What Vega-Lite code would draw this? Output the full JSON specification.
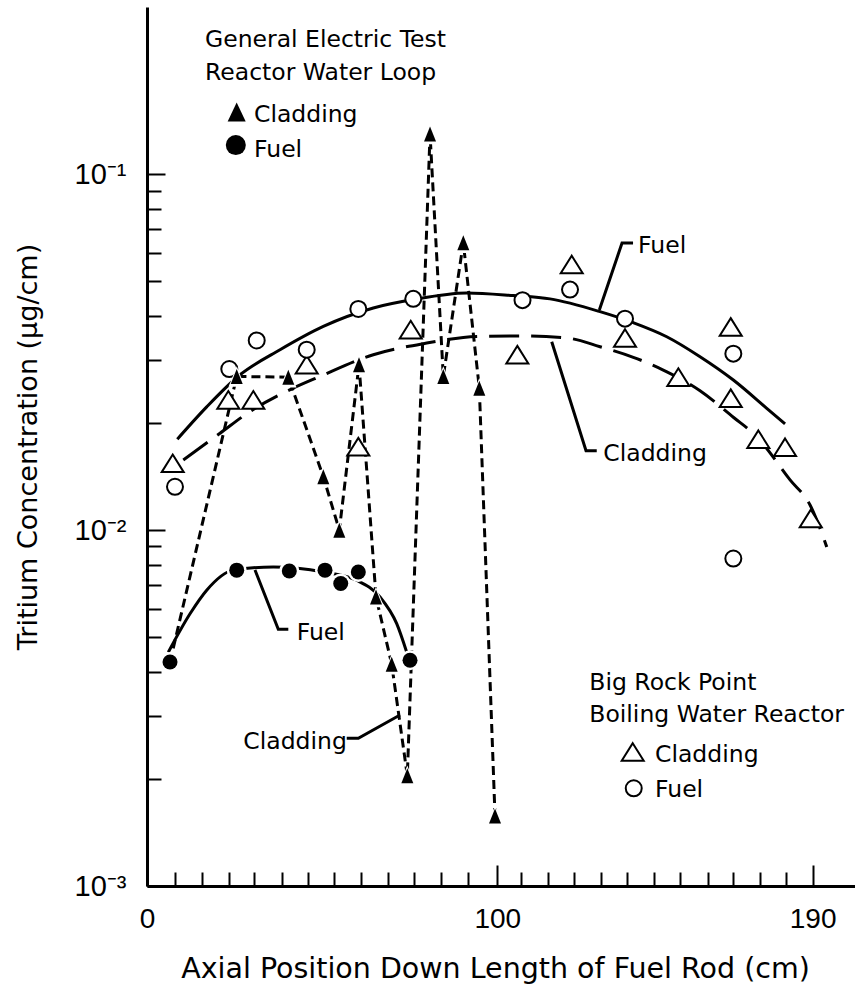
{
  "$schema": "https://vega.github.io/schema/vega-lite/v6.json",
  "width": 708,
  "height": 879,
  "autosize": {"type": "none"},
  "padding": {"left": 147, "top": 7, "right": 0, "bottom": 103},
  "background": "white",
  "config": {"view": {"stroke": null}},
  "datasets": {
    "brp_fuel": [
      {"x": 7.99, "y": 0.01324}, {"x": 23.49, "y": 0.02836}, {"x": 31.32, "y": 0.03413},
      {"x": 45.59, "y": 0.03214}, {"x": 60.32, "y": 0.04184}, {"x": 76.01, "y": 0.04466},
      {"x": 107.19, "y": 0.04429}, {"x": 120.75, "y": 0.04742}, {"x": 136.45, "y": 0.0393},
      {"x": 167.37, "y": 0.03133}, {"x": 167.37, "y": 0.00832}
    ],
    "brp_cladding": [
      {"x": 7.34, "y": 0.01541}, {"x": 23.21, "y": 0.02323}, {"x": 30.35, "y": 0.02323},
      {"x": 45.59, "y": 0.02918}, {"x": 60.32, "y": 0.01716}, {"x": 75.28, "y": 0.0366},
      {"x": 105.71, "y": 0.03112}, {"x": 121.24, "y": 0.05578}, {"x": 136.45, "y": 0.03467},
      {"x": 151.67, "y": 0.02692}, {"x": 166.63, "y": 0.03724}, {"x": 166.63, "y": 0.02349},
      {"x": 174.51, "y": 0.01801}, {"x": 182.13, "y": 0.0171}, {"x": 189.47, "y": 0.01079}
    ],
    "getr_fuel": [
      {"x": 6.57, "y": 0.00426}, {"x": 25.61, "y": 0.00772}, {"x": 40.62, "y": 0.00768},
      {"x": 50.81, "y": 0.00772}, {"x": 55.3, "y": 0.00708}, {"x": 60.32, "y": 0.00763},
      {"x": 75.08, "y": 0.00431}
    ],
    "getr_cladding": [
      {"x": 6.57, "y": 0.00426}, {"x": 25.61, "y": 0.02704}, {"x": 40.34, "y": 0.02691},
      {"x": 50.33, "y": 0.01413}, {"x": 54.9, "y": 0.01}, {"x": 60.52, "y": 0.02918},
      {"x": 65.37, "y": 0.00649}, {"x": 69.85, "y": 0.0042}, {"x": 74.31, "y": 0.00204},
      {"x": 80.79, "y": 0.1297}, {"x": 84.58, "y": 0.02704}, {"x": 90.29, "y": 0.06423},
      {"x": 94.86, "y": 0.02506}, {"x": 99.34, "y": 0.001574}
    ],
    "fits": [
      {"fit": "BRP fuel", "x": 8.65, "y": 0.01801}, {"fit": "BRP fuel", "x": 17.04, "y": 0.0222},
      {"fit": "BRP fuel", "x": 26.55, "y": 0.02733}, {"fit": "BRP fuel", "x": 37.97, "y": 0.03214},
      {"fit": "BRP fuel", "x": 50.33, "y": 0.03738}, {"fit": "BRP fuel", "x": 64.6, "y": 0.04211},
      {"fit": "BRP fuel", "x": 76.02, "y": 0.04446}, {"fit": "BRP fuel", "x": 91.27, "y": 0.04641},
      {"fit": "BRP fuel", "x": 104.57, "y": 0.04561}, {"fit": "BRP fuel", "x": 115.04, "y": 0.04466},
      {"fit": "BRP fuel", "x": 129.32, "y": 0.04111}, {"fit": "BRP fuel", "x": 138.82, "y": 0.03828},
      {"fit": "BRP fuel", "x": 148.36, "y": 0.03496}, {"fit": "BRP fuel", "x": 157.87, "y": 0.03072},
      {"fit": "BRP fuel", "x": 167.37, "y": 0.02642}, {"fit": "BRP fuel", "x": 176.91, "y": 0.022},
      {"fit": "BRP fuel", "x": 182.13, "y": 0.01988},
      {"fit": "BRP cladding", "x": 10.36, "y": 0.01575}, {"fit": "BRP cladding", "x": 20.84, "y": 0.01872},
      {"fit": "BRP cladding", "x": 29.4, "y": 0.02154}, {"fit": "BRP cladding", "x": 41.76, "y": 0.02507},
      {"fit": "BRP cladding", "x": 49.39, "y": 0.02704}, {"fit": "BRP cladding", "x": 64.6, "y": 0.03112},
      {"fit": "BRP cladding", "x": 78.88, "y": 0.03342}, {"fit": "BRP cladding", "x": 95.06, "y": 0.03503},
      {"fit": "BRP cladding", "x": 106.48, "y": 0.03512}, {"fit": "BRP cladding", "x": 119.81, "y": 0.03467},
      {"fit": "BRP cladding", "x": 129.32, "y": 0.03277}, {"fit": "BRP cladding", "x": 138.82, "y": 0.0306},
      {"fit": "BRP cladding", "x": 146.93, "y": 0.02831}, {"fit": "BRP cladding", "x": 157.87, "y": 0.02465},
      {"fit": "BRP cladding", "x": 167.37, "y": 0.02076}, {"fit": "BRP cladding", "x": 174.05, "y": 0.01831},
      {"fit": "BRP cladding", "x": 183.56, "y": 0.01384}, {"fit": "BRP cladding", "x": 189.27, "y": 0.01177},
      {"fit": "BRP cladding", "x": 194.03, "y": 0.00897},
      {"fit": "GETR fuel", "x": 6.08, "y": 0.00454}, {"fit": "GETR fuel", "x": 12.28, "y": 0.00582},
      {"fit": "GETR fuel", "x": 17.04, "y": 0.00678}, {"fit": "GETR fuel", "x": 24.64, "y": 0.00772},
      {"fit": "GETR fuel", "x": 36.05, "y": 0.00788}, {"fit": "GETR fuel", "x": 50.33, "y": 0.00763},
      {"fit": "GETR fuel", "x": 59.86, "y": 0.00723}, {"fit": "GETR fuel", "x": 66.51, "y": 0.00649},
      {"fit": "GETR fuel", "x": 71.28, "y": 0.00546}, {"fit": "GETR fuel", "x": 74.14, "y": 0.00454}
    ],
    "leaders": [
      {"leader": "BRP fuel", "i": 0, "x": 138.74, "y": 0.0641},
      {"leader": "BRP fuel", "i": 1, "x": 135.6, "y": 0.0641},
      {"leader": "BRP fuel", "i": 2, "x": 129.12, "y": 0.04157},
      {"leader": "BRP cladding", "i": 0, "x": 115.53, "y": 0.03385},
      {"leader": "BRP cladding", "i": 1, "x": 125.32, "y": 0.01672},
      {"leader": "BRP cladding", "i": 2, "x": 128.38, "y": 0.01672},
      {"leader": "GETR fuel", "i": 0, "x": 30.83, "y": 0.00773},
      {"leader": "GETR fuel", "i": 1, "x": 37.48, "y": 0.005265},
      {"leader": "GETR fuel", "i": 2, "x": 40.34, "y": 0.005265},
      {"leader": "GETR cladding", "i": 0, "x": 57.01, "y": 0.0026},
      {"leader": "GETR cladding", "i": 1, "x": 60.32, "y": 0.0026},
      {"leader": "GETR cladding", "i": 2, "x": 72.22, "y": 0.003024}
    ],
    "labels": [
      {"label": "General Electric Test", "x": 16.56, "y": 0.2275},
      {"label": "Reactor Water Loop", "x": 16.56, "y": 0.1841},
      {"label": "Cladding", "x": 30.55, "y": 0.1405},
      {"label": "Fuel", "x": 30.55, "y": 0.1121},
      {"label": "Big Rock Point", "x": 126.26, "y": 0.003555},
      {"label": "Boiling Water Reactor", "x": 126.26, "y": 0.002895},
      {"label": "Cladding", "x": 145.02, "y": 0.002235},
      {"label": "Fuel", "x": 145.02, "y": 0.001782},
      {"label": "Fuel", "x": 140.17, "y": 0.05998},
      {"label": "Cladding", "x": 130.26, "y": 0.01567},
      {"label": "Fuel", "x": 42.73, "y": 0.004912},
      {"label": "Cladding", "x": 27.49, "y": 0.002421}
    ],
    "legend": [
      {"symbol": "filled triangle", "x": 25.6, "y": 0.1496},
      {"symbol": "filled circle", "x": 25.35, "y": 0.1208},
      {"symbol": "open triangle", "x": 138.65, "y": 0.00238},
      {"symbol": "open circle", "x": 138.94, "y": 0.001882}
    ]
  },
  "encoding": {
    "x": {
      "field": "x", "type": "quantitative",
      "scale": {"domain": [0, 202.1], "nice": false, "zero": false},
      "axis": {
        "title": "Axial Position Down Length of Fuel Rod (cm)",
        "values": [0, 7.9, 15.7, 23.3, 30.6, 38.5, 46.0, 53.4, 61.2, 68.8, 76.2, 83.8, 91.5, 100, 106.8, 114.4, 121.9, 129.5, 137.0, 144.6, 152.2, 160.0, 167.3, 174.9, 182.5, 190],
        "labelExpr": "datum.value == 0 || datum.value == 100 || datum.value == 190 ? '' + datum.value : ''",
        "labelFont": "Liberation Sans", "labelFontSize": 28, "labelColor": "black",
        "labelPadding": {"condition": {"test": "datum.value == 100 || datum.value == 190", "value": 40}, "value": 33},
        "labelFlush": false, "labelOverlap": false, "labelBound": false,
        "tickSize": {"condition": {"test": "datum.value == 100 || datum.value == 190", "value": -21}, "value": -14},
        "tickColor": "black", "tickWidth": 2,
        "domainColor": "black", "domainWidth": 3, "grid": false,
        "titleFont": "DejaVu Sans", "titleFontSize": 28.5, "titleFontWeight": "normal", "titleColor": "black",
        "titlePadding": 21, "titleX": 348
      }
    },
    "y": {
      "field": "y", "type": "quantitative",
      "scale": {"type": "log", "domain": [0.001, 0.2952], "nice": false},
      "axis": {
        "title": "Tritium Concentration (µg/cm)",
        "values": [0.001, 0.002, 0.003, 0.004, 0.005, 0.006, 0.007, 0.008, 0.009, 0.01, 0.02, 0.03, 0.04, 0.05, 0.06, 0.07, 0.08, 0.09, 0.1],
        "labelExpr": "datum.value == 0.1 ? '10⁻¹' : (datum.value == 0.01 ? '10⁻²' : (datum.value == 0.001 ? '10⁻³' : ''))",
        "labelFont": "Liberation Sans", "labelFontSize": 29, "labelColor": "black",
        "labelPadding": 39, "labelFlush": false, "labelOverlap": false, "labelBound": false,
        "tickSize": {"condition": {"test": "datum.value == 0.1 || datum.value == 0.01 || datum.value == 0.001", "value": -18}, "value": -14},
        "tickColor": "black", "tickWidth": 2,
        "domainColor": "black", "domainWidth": 3, "grid": false,
        "titleFont": "DejaVu Sans", "titleFontSize": 27, "titleFontWeight": "normal", "titleColor": "black",
        "titlePadding": 32
      }
    }
  },
  "layer": [
    {
      "data": {"values": [{"edge": "top"}]},
      "mark": {"type": "rule", "color": "black", "strokeWidth": 3},
      "encoding": {"x": {"datum": 0}, "x2": {"datum": 202.1}, "y": {"datum": 0.2952}}
    },
    {
      "data": {"name": "fits"},
      "transform": [{"filter": "datum.fit == 'BRP cladding'"}],
      "mark": {"type": "line", "interpolate": "monotone", "color": "black", "strokeWidth": 3, "strokeDash": [30, 12]}
    },
    {
      "data": {"name": "fits"},
      "transform": [{"filter": "datum.fit == 'BRP fuel'"}],
      "mark": {"type": "line", "interpolate": "monotone", "color": "black", "strokeWidth": 3}
    },
    {
      "data": {"name": "fits"},
      "transform": [{"filter": "datum.fit == 'GETR fuel'"}],
      "mark": {"type": "line", "interpolate": "monotone", "color": "black", "strokeWidth": 3}
    },
    {
      "data": {"name": "getr_cladding"},
      "mark": {"type": "line", "color": "black", "strokeWidth": 3, "strokeDash": [9, 5]}
    },
    {
      "data": {"name": "leaders"},
      "mark": {"type": "line", "color": "black", "strokeWidth": 3},
      "encoding": {"detail": {"field": "leader"}, "order": {"field": "i", "type": "quantitative"}}
    },
    {
      "data": {"name": "brp_cladding"},
      "mark": {"type": "point", "shape": "M0,-0.8L1,0.8L-1,0.8Z", "size": 484, "filled": true, "fill": "white", "stroke": "black", "strokeWidth": 2, "opacity": 1}
    },
    {
      "data": {"name": "brp_fuel"},
      "mark": {"type": "point", "shape": "circle", "size": 256, "filled": true, "fill": "white", "stroke": "black", "strokeWidth": 2, "opacity": 1}
    },
    {
      "data": {"name": "getr_cladding"},
      "transform": [{"filter": "datum.x > 10"}],
      "mark": {"type": "point", "shape": "M0,-1L0.8,1L-0.8,1Z", "size": 420, "filled": true, "color": "white", "opacity": 1}
    },
    {
      "data": {"name": "getr_cladding"},
      "transform": [{"filter": "datum.x > 10"}],
      "mark": {"type": "point", "shape": "M0,-1L0.8,1L-0.8,1Z", "size": 225, "filled": true, "color": "black", "opacity": 1}
    },
    {
      "data": {"name": "getr_fuel"},
      "mark": {"type": "point", "shape": "circle", "size": 400, "filled": true, "color": "white", "opacity": 1}
    },
    {
      "data": {"name": "getr_fuel"},
      "mark": {"type": "point", "shape": "circle", "size": 225, "filled": true, "color": "black", "opacity": 1}
    },
    {
      "data": {"name": "legend"},
      "transform": [{"filter": "datum.symbol == 'filled triangle'"}],
      "mark": {"type": "point", "shape": "M0,-1L0.95,1L-0.95,1Z", "size": 361, "filled": true, "color": "black", "opacity": 1}
    },
    {
      "data": {"name": "legend"},
      "transform": [{"filter": "datum.symbol == 'filled circle'"}],
      "mark": {"type": "point", "shape": "circle", "size": 400, "filled": true, "color": "black", "opacity": 1}
    },
    {
      "data": {"name": "legend"},
      "transform": [{"filter": "datum.symbol == 'open triangle'"}],
      "mark": {"type": "point", "shape": "M0,-0.8L1,0.8L-1,0.8Z", "size": 484, "filled": true, "fill": "white", "stroke": "black", "strokeWidth": 2, "opacity": 1}
    },
    {
      "data": {"name": "legend"},
      "transform": [{"filter": "datum.symbol == 'open circle'"}],
      "mark": {"type": "point", "shape": "circle", "size": 256, "filled": true, "fill": "white", "stroke": "black", "strokeWidth": 2, "opacity": 1}
    },
    {
      "data": {"name": "labels"},
      "mark": {"type": "text", "align": "left", "baseline": "alphabetic", "font": "DejaVu Sans", "fontSize": 23.5, "color": "black"},
      "encoding": {"text": {"field": "label"}}
    }
  ]
}
